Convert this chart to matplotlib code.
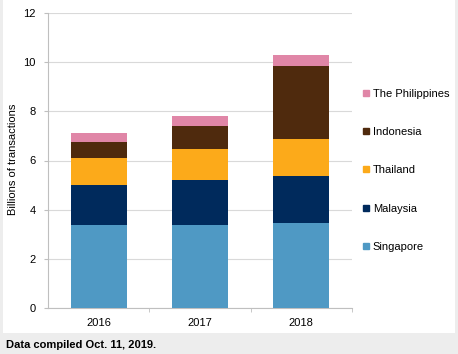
import matplotlib
matplotlib.use("Agg")
import matplotlib.pyplot as plt
from matplotlib.patches import Rectangle
from matplotlib.lines import Line2D
import numpy as np

plt.rcParams['font.family'] = ['Liberation Sans', 'DejaVu Sans']

years = ["2016", "2017", "2018"]
series_names = ["Singapore", "Malaysia", "Thailand", "Indonesia", "The Philippines"]
singapore = [3.36, 3.36, 3.44]
malaysia = [1.65, 1.85, 1.94]
thailand = [1.09, 1.26, 1.51]
indonesia = [0.65, 0.95, 2.94]
philippines = [0.35, 0.37, 0.45]
colors = ["#4f99c4", "#002a5c", "#fcaa1a", "#4f2a0d", "#e086a7"]
yticks = [0, 2, 4, 6, 8, 10, 12]

W, H = 458, 354
fig = plt.figure(figsize=(W / 100, H / 100), dpi=100)
fig.patch.set_facecolor("#ededed")
fig.patches.append(Rectangle((3 / W, 1 - 333 / H), 452 / W, 333 / H,
                             transform=fig.transFigure, facecolor="white",
                             edgecolor="none", zorder=-5))

ax = fig.add_axes([48 / W, 1 - 308 / H, 304 / W, 295 / H])
ax.set_zorder(2)
ax.set_facecolor("none")
x = np.arange(len(years))
data = [singapore, malaysia, thailand, indonesia, philippines]
bottom = np.zeros(len(years))
handles = []
for name, vals, c in zip(series_names, data, colors):
    ax.bar(x, vals, bottom=bottom, width=0.55, color=c, zorder=3)
    bottom += np.array(vals)
    handles.append(Line2D([], [], marker="s", linestyle="none", markersize=4.5,
                          markerfacecolor=c, markeredgecolor=c, label=name))

ax.set_xlim(-0.5, 2.5)
ax.set_ylim(0, 12)
ax.set_yticks(yticks)
ax.yaxis.grid(True, color="#d9d9d9", linewidth=0.8, zorder=0)
ax.set_axisbelow(True)
ax.set_xticks(x)
ax.set_xticklabels(years)
ax.set_xticks([0.5, 1.5, 2.5], minor=True)
ax.tick_params(axis="x", which="major", length=0, labelsize=8, pad=7)
ax.tick_params(axis="x", which="minor", length=3, color="#bfbfbf", direction="out")
ax.tick_params(axis="y", length=3, color="#bfbfbf", labelsize=8, pad=6)
for s in ["top", "right"]:
    ax.spines[s].set_visible(False)
for s in ["left", "bottom"]:
    ax.spines[s].set_color("#bfbfbf")
    ax.spines[s].set_linewidth(0.8)
ax.set_ylabel("Billions of transactions", fontsize=8)
ax.yaxis.set_label_coords((18 - 48) / 304, (308 - 159) / 295)

leg = fig.legend(handles=handles[::-1], loc="upper left",
                 bbox_to_anchor=(355 / W, 1 - 83 / H), frameon=False,
                 fontsize=8, handletextpad=0.1, labelspacing=2.55,
                 handlelength=1.0, borderpad=0)
leg.set_zorder(3)

fig.text(6 / W, 1 - 345 / H, "Data compiled Oct. 11, 2019.", fontsize=8,
         fontweight="bold", ha="left", va="center")

fig.savefig("out.png", dpi=100, facecolor=fig.get_facecolor())
